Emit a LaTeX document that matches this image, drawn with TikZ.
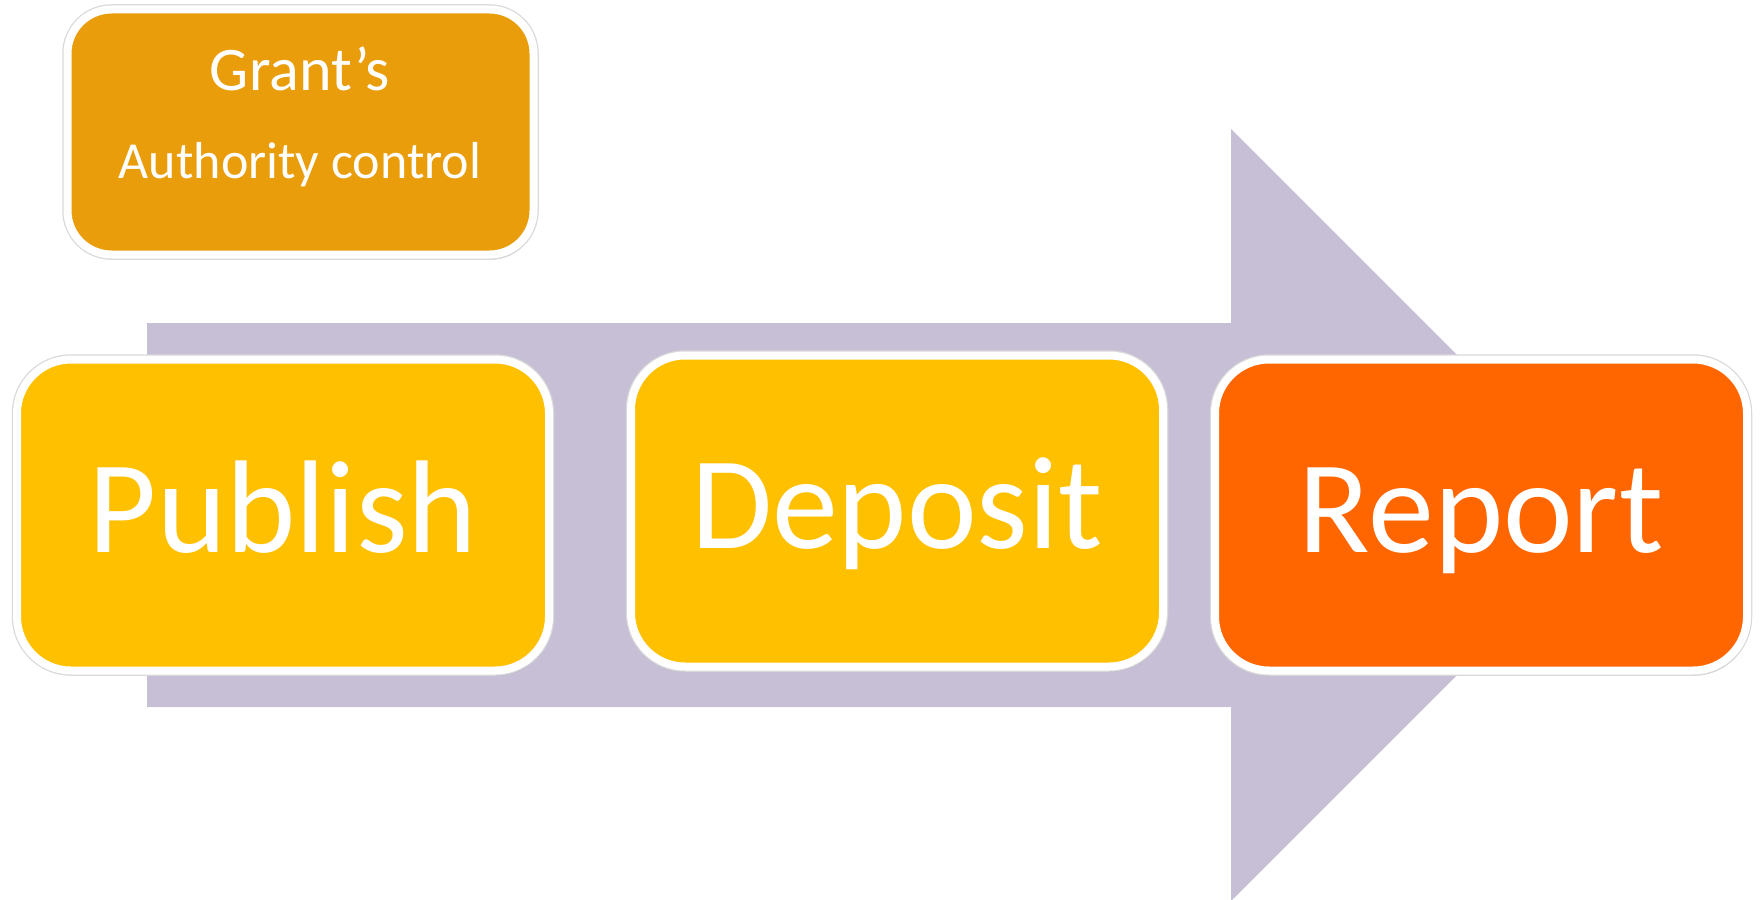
\documentclass[tikz,border=0pt]{standalone}
\usepackage{xcolor}
\usepackage{fontspec}
\setmainfont{Carlito}
\usepackage{tikz}
\usetikzlibrary{calc}
\usetikzlibrary{shapes}
\usetikzlibrary{positioning}
\usetikzlibrary{shadows}
\definecolor{flowgray}{RGB}{198,191,213}
\definecolor{stagegold}{RGB}{255,192,0}
\definecolor{stageorange}{RGB}{255,102,0}
\definecolor{grantgold}{RGB}{233,157,10}
\tikzstyle{rim} = [drop shadow={shadow xshift=2pt, shadow yshift=-5pt, opacity=.3, fill=black!70}, preaction={draw=black!15, line width=10.5pt}]
\tikzstyle{stagebox} = [rectangle, rim, draw=white, line width=8pt, rounded corners=54pt, minimum width=532pt, minimum height=311pt, text=white, font=\fontsize{132}{132}\selectfont, text height=102pt, text depth=28pt]
\tikzstyle{grantbox} = [rectangle, rim, draw=white, fill=grantgold, line width=8pt, rounded corners=44pt, minimum width=466pt, minimum height=245pt]
\tikzstyle{granttext} = [anchor=base, text=white, inner sep=0pt]

\begin{document}
\begin{tikzpicture}[x=1pt, y=-1pt]
\useasboundingbox (0,0) rectangle (1763,899);
\fill [flowgray] (147,323) -- (1231,323) -- (1231,129) -- (1617,515) -- (1231,901) -- (1231,707) -- (147,707) -- cycle;
\node [grantbox] (grant) at (300.5,132) {};
\node [granttext, font=\fontsize{62}{62}\selectfont] (grantA) at (300,90) {Grant’s};
\node [granttext, font=\fontsize{52}{52}\selectfont] (grantB) at (300,178) {Authority control};
\node [stagebox, fill=stagegold] (publish) at (283,515) {Publish};
\node [stagebox, fill=stagegold] (deposit) at (897,511) {Deposit};
\node [stagebox, fill=stageorange] (report) at (1481,515) {Report};
\end{tikzpicture}
\end{document}
